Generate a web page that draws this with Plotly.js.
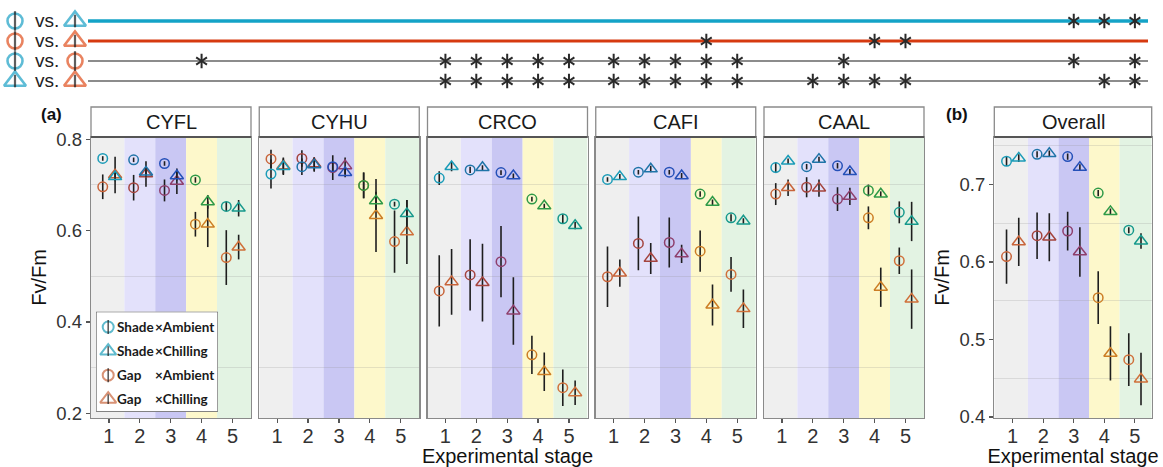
<!DOCTYPE html>
<html>
<head>
<meta charset="utf-8">
<script src="https://cdn.plot.ly/plotly-3.0.1.min.js"></script>
<style>html,body{margin:0;padding:0;background:#fff;}#chart{width:1163px;height:467px;}</style>
</head>
<body>
<div id="chart"></div>
<script>
// ---------------- DATA ----------------
const panels = ['CYFL', 'CYHU', 'CRCO', 'CAFI', 'CAAL', 'Overall'];
const stages = [1, 2, 3, 4, 5];
const stageLabels = ['1', '2', '3', '4', '5'];

const shadeAmbMean = [
  [0.758, 0.755, 0.747, 0.711, 0.653],
  [0.724, 0.740, 0.740, 0.699, 0.658],
  [0.715, 0.733, 0.727, 0.669, 0.626],
  [0.712, 0.728, 0.728, 0.680, 0.628],
  [0.738, 0.740, 0.742, 0.688, 0.640],
  [0.730, 0.739, 0.736, 0.689, 0.641]
];
const shadeAmbErr = [
  [0.005, 0.005, 0.005, 0.006, 0.010],
  [0.032, 0.018, 0.010, 0.028, 0.005],
  [0.015, 0.007, 0.005, 0.005, 0.010],
  [0.005, 0.005, 0.005, 0.006, 0.008],
  [0.012, 0.006, 0.006, 0.013, 0.024],
  [0.006, 0.004, 0.004, 0.004, 0.004]
];
const shadeChillMean = [
  [0.718, 0.728, 0.720, 0.663, 0.649],
  [0.740, 0.744, 0.727, 0.665, 0.637],
  [0.740, 0.738, 0.720, 0.654, 0.611],
  [0.718, 0.735, 0.720, 0.662, 0.621],
  [0.752, 0.756, 0.729, 0.680, 0.620],
  [0.734, 0.740, 0.722, 0.665, 0.627]
];
const shadeChillErr = [
  [0.010, 0.010, 0.010, 0.015, 0.018],
  [0.018, 0.015, 0.010, 0.020, 0.030],
  [0.010, 0.005, 0.005, 0.005, 0.008],
  [0.006, 0.007, 0.006, 0.006, 0.006],
  [0.006, 0.006, 0.006, 0.006, 0.043],
  [0.005, 0.004, 0.004, 0.004, 0.010]
];
const gapAmbMean = [
  [0.696, 0.694, 0.688, 0.614, 0.541],
  [0.757, 0.758, 0.738, 0.699, 0.576],
  [0.468, 0.503, 0.532, 0.328, 0.256],
  [0.499, 0.572, 0.574, 0.555, 0.504],
  [0.680, 0.695, 0.669, 0.628, 0.534],
  [0.607, 0.634, 0.640, 0.554, 0.474]
];
const gapAmbErr = [
  [0.027, 0.028, 0.024, 0.027, 0.060],
  [0.020, 0.018, 0.027, 0.028, 0.068],
  [0.078, 0.078, 0.078, 0.042, 0.040],
  [0.066, 0.059, 0.055, 0.045, 0.038],
  [0.024, 0.022, 0.026, 0.025, 0.029],
  [0.035, 0.030, 0.025, 0.034, 0.034]
];
const gapChillMean = [
  [0.722, 0.724, 0.708, 0.614, 0.564],
  [0.742, 0.746, 0.742, 0.633, 0.597],
  [0.488, 0.486, 0.424, 0.291, 0.245],
  [0.507, 0.539, 0.549, 0.437, 0.429],
  [0.694, 0.693, 0.675, 0.476, 0.450],
  [0.626, 0.632, 0.613, 0.482, 0.449]
];
const gapChillErr = [
  [0.040, 0.028, 0.028, 0.050, 0.027],
  [0.018, 0.015, 0.018, 0.080, 0.070],
  [0.072, 0.085, 0.074, 0.042, 0.027],
  [0.030, 0.034, 0.020, 0.045, 0.042],
  [0.018, 0.019, 0.019, 0.043, 0.065],
  [0.031, 0.031, 0.032, 0.035, 0.034]
];

// significant stages (asterisks) per panel, for each comparison row
const sigShadeAmbVsShadeChill = [[], [], [], [], [], [3, 4, 5]];
const sigGapAmbVsGapChill     = [[], [], [], [4], [4, 5], []];
const sigShadeAmbVsGapAmb     = [[4], [], [1, 2, 3, 4, 5], [1, 2, 3, 4, 5], [3], [3, 5]];
const sigShadeChillVsGapChill = [[], [], [1, 2, 3, 4, 5], [1, 2, 3, 4, 5], [2, 3, 4, 5], [4, 5]];

const legendLight = ['Shade', 'Shade', 'Gap', 'Gap'];
const legendTemp = ['×Ambient', '×Chilling', '×Ambient', '×Chilling'];
const yTitle = 'Fv/Fm';
const xTitle = 'Experimental stage';

// ---------------- STYLE ----------------
const W = 1163, H = 467;
const px = v => v / W;
const py = v => 1 - v / H;
const FONT = 'Liberation Sans, Arial, sans-serif';
const shadeColors = ['#1b9cb8', '#1f74a8', '#2450b8', '#2f9a48', '#16998c'];
const gapColors = ['#c8643a', '#a4443e', '#8e3f6c', '#cc7d24', '#d0703a'];
const bandColors = ['#efefef', '#e3e1fb', '#c9c7f3', '#fdf8cb', '#e3f3e3'];
const cyanC = '#1aa0c4', orangeC = '#df4f1c';
const panelDomains = [[91, 251], [259.25, 419.25], [427.5, 587.5], [595.75, 755.75], [764, 924], [994.3, 1151.7]];
const xRanges = [[0.42, 5.6], [0.42, 5.6], [0.42, 5.6], [0.42, 5.6], [0.42, 5.6], [0.4, 5.55]];
const yRangeA = [0.1897, 0.805], yRangeB = [0.3987, 0.7613];
const plotTop = 137, plotBot = 418, stripTop = 107;
const dodge = 0.2;

const traces = [];
const shapes = [];
const annotations = [];
const layout = {
  width: W, height: H,
  margin: {l: 0, r: 0, t: 0, b: 0},
  paper_bgcolor: '#ffffff', plot_bgcolor: '#ffffff',
  showlegend: false,
  font: {family: FONT, color: '#222'}
};

panels.forEach((name, i) => {
  const n = i + 1;
  const xa = n === 1 ? 'x' : 'x' + n;
  const ya = n === 1 ? 'y' : 'y' + n;
  const isB = i === 5;
  const yr = isB ? yRangeB : yRangeA;
  layout['xaxis' + (n === 1 ? '' : n)] = {
    domain: [px(panelDomains[i][0]), px(panelDomains[i][1])],
    range: xRanges[i], anchor: ya,
    tickmode: 'array', tickvals: stages, ticktext: stageLabels,
    ticks: 'outside', ticklen: 4, tickwidth: 1.2, tickcolor: '#555',
    ticklabelstandoff: -4,
    tickfont: {size: 20, color: '#333', family: FONT},
    showline: true, mirror: true, linecolor: '#8a8a8a', linewidth: 1.3,
    showgrid: false, zeroline: false, fixedrange: true,
    title: (i === 2 || i === 5) ? {text: xTitle, font: {size: 20, color: '#111', family: FONT}, standoff: 5} : {text: ''}
  };
  const showLab = (i === 0 || i === 5);
  layout['yaxis' + (n === 1 ? '' : n)] = {
    domain: [py(plotBot), py(plotTop)],
    range: yr, anchor: xa,
    tickmode: 'array',
    tickvals: isB ? [0.4, 0.5, 0.6, 0.7] : [0.2, 0.4, 0.6, 0.8],
    ticktext: isB ? ['0.4', '0.5', '0.6', '0.7'] : ['0.2', '0.4', '0.6', '0.8'],
    ticks: showLab ? 'outside' : '', ticklen: 4, tickwidth: 1.2, tickcolor: '#555',
    showticklabels: showLab,
    tickfont: {size: 18.5, color: '#333', family: FONT},
    showline: true, mirror: true, linecolor: '#8a8a8a', linewidth: 1.3,
    showgrid: false, zeroline: false, fixedrange: true,
    minor: {showgrid: true, tickmode: 'array', tickvals: isB ? [0.45, 0.55, 0.65, 0.75] : [0.3, 0.5, 0.7], gridcolor: 'rgba(140,140,140,0.22)', gridwidth: 1, ticks: ''},
    title: showLab ? {text: yTitle, font: {size: 20, color: '#111', family: FONT}, standoff: 4} : {text: ''}
  };

  // stage background bands
  stages.forEach((s, k) => {
    shapes.push({
      type: 'rect', layer: 'below', xref: xa, yref: ya + ' domain',
      x0: k === 0 ? xRanges[i][0] : s - 0.5,
      x1: k === stages.length - 1 ? xRanges[i][1] : s + 0.5,
      y0: 0, y1: 1, fillcolor: bandColors[k], line: {width: 0}
    });
  });
  // strip
  shapes.push({type: 'rect', xref: xa + ' domain', yref: 'paper', x0: 0, x1: 1,
    y0: py(plotTop), y1: py(stripTop), fillcolor: '#ffffff', line: {color: '#8a8a8a', width: 1.3}});
  shapes.push({type: 'line', xref: xa + ' domain', yref: 'paper', x0: 0, x1: 1,
    y0: py(plotTop), y1: py(plotTop), line: {color: '#555', width: 2}});
  annotations.push({xref: xa + ' domain', yref: 'paper', x: 0.5, y: py((plotTop + stripTop) / 2),
    text: name, showarrow: false, xanchor: 'center', yanchor: 'middle',
    font: {size: 20, color: '#1a1a1a', family: FONT}});

  const groups = [
    {mean: gapAmbMean[i], err: gapAmbErr[i], dx: -dodge, sym: 'circle-open', size: 9.5, col: gapColors},
    {mean: gapChillMean[i], err: gapChillErr[i], dx: dodge, sym: 'triangle-up-open', size: 11.5, col: gapColors},
    {mean: shadeAmbMean[i], err: shadeAmbErr[i], dx: -dodge, sym: 'circle-open', size: 9.5, col: shadeColors},
    {mean: shadeChillMean[i], err: shadeChillErr[i], dx: dodge, sym: 'triangle-up-open', size: 11.5, col: shadeColors}
  ];
  groups.forEach(g => {
    traces.push({
      type: 'scatter', mode: 'markers', xaxis: xa, yaxis: ya,
      x: stages.map(s => s + g.dx), y: g.mean,
      error_y: {type: 'data', array: g.err, visible: true, color: '#1e1e1e', thickness: 1.6, width: 0},
      marker: {symbol: g.sym, size: g.size, color: g.col, line: {width: 1.5}},
      hoverinfo: 'skip', cliponaxis: false
    });
  });
});

// ---------- top significance rows ----------
layout.yaxis7 = {domain: [py(91), py(11)], range: [4.5, 0.5], anchor: 'x', visible: false, fixedrange: true};
layout.xaxis7 = {domain: [0, px(88)], range: [0, 88], anchor: 'y7', visible: false, fixedrange: true};
const sigRows = [sigShadeAmbVsShadeChill, sigGapAmbVsGapChill, sigShadeAmbVsGapAmb, sigShadeChillVsGapChill];
const rowLine = [{color: '#14a3c7', width: 3.5}, {color: '#d63a10', width: 3}, {color: '#8c8c8c', width: 2}, {color: '#8c8c8c', width: 2}];
sigRows.forEach((row, r) => {
  shapes.push({type: 'line', xref: 'paper', yref: 'y7', x0: px(88), x1: px(1148), y0: r + 1, y1: r + 1, line: rowLine[r], layer: 'below'});
  row.forEach((hits, i) => {
    if (!hits.length) return;
    const n = i + 1;
    ['y-up-open', 'y-down-open'].forEach(sym => {
      traces.push({
        type: 'scatter', mode: 'markers', xaxis: n === 1 ? 'x' : 'x' + n, yaxis: 'y7',
        x: hits, y: hits.map(() => r + 1),
        marker: {symbol: sym, size: 9, color: '#2a2a2a', line: {width: 2, color: '#2a2a2a'}},
        hoverinfo: 'skip', cliponaxis: false
      });
    });
  });
});
// row label symbols:  Φ vs. Δ  etc.
const rowLeftSym = ['circle-open', 'circle-open', 'circle-open', 'triangle-up-open'];
const rowLeftCol = [cyanC, orangeC, cyanC, cyanC];
const rowRightSym = ['triangle-up-open', 'triangle-up-open', 'circle-open', 'triangle-up-open'];
const rowRightCol = [cyanC, orangeC, orangeC, orangeC];
const rowsIdx = [1, 2, 3, 4];
const symSize = s => s === 'circle-open' ? 15 : 19;
const barSize = s => s === 'circle-open' ? 14 : 9;
traces.push({type: 'scatter', mode: 'markers', xaxis: 'x7', yaxis: 'y7', x: rowsIdx.map(() => 15), y: rowsIdx,
  marker: {symbol: rowLeftSym, size: rowLeftSym.map(symSize), color: rowLeftCol, line: {width: 2.6}}, hoverinfo: 'skip', cliponaxis: false});
traces.push({type: 'scatter', mode: 'markers', xaxis: 'x7', yaxis: 'y7', x: rowsIdx.map(() => 75), y: rowsIdx,
  marker: {symbol: rowRightSym, size: rowRightSym.map(symSize), color: rowRightCol, line: {width: 2.6}}, hoverinfo: 'skip', cliponaxis: false});
traces.push({type: 'scatter', mode: 'markers', xaxis: 'x7', yaxis: 'y7', x: rowsIdx.map(() => 15).concat(rowsIdx.map(() => 75)), y: rowsIdx.concat(rowsIdx),
  marker: {symbol: 'line-ns-open', size: rowLeftSym.map(barSize).concat(rowRightSym.map(barSize)), color: '#1a1a1a', line: {width: 2.2}}, hoverinfo: 'skip', cliponaxis: false});
rowsIdx.forEach(r => {
  annotations.push({xref: 'x7', yref: 'y7', x: 47, y: r, text: 'vs.', showarrow: false, xanchor: 'center', yanchor: 'middle',
    font: {size: 19, color: '#222', family: FONT}});
});

// ---------- manual legend ----------
const legTop = 311.7, legBot = 411.7;
layout.xaxis8 = {domain: [px(96), px(218)], range: [0, 1], anchor: 'y8', visible: false, fixedrange: true};
layout.yaxis8 = {domain: [py(legBot), py(legTop)], range: [4.52, 0.3625], anchor: 'x8', visible: false, fixedrange: true};
shapes.push({type: 'rect', xref: 'x8', yref: 'y8', x0: 0, x1: 1, y0: 4.52, y1: 0.3625, layer: 'below',
  fillcolor: '#ffffff', line: {color: '#5a5a5a', width: 1.2}});
const legSym = ['circle-open', 'triangle-up-open', 'circle-open', 'triangle-up-open'];
const legCol = [shadeColors[0], shadeColors[0], gapColors[0], gapColors[0]];
traces.push({type: 'scatter', mode: 'markers', xaxis: 'x8', yaxis: 'y8', x: rowsIdx.map(() => 0.1), y: rowsIdx,
  marker: {symbol: legSym, size: legSym.map(s => s === 'circle-open' ? 11 : 14), color: legCol, line: {width: 2}}, hoverinfo: 'skip', cliponaxis: false});
traces.push({type: 'scatter', mode: 'markers', xaxis: 'x8', yaxis: 'y8', x: rowsIdx.map(() => 0.1), y: rowsIdx,
  marker: {symbol: 'line-ns-open', size: legSym.map(s => s === 'circle-open' ? 10 : 7), color: '#1a1a1a', line: {width: 1.6}}, hoverinfo: 'skip', cliponaxis: false});
rowsIdx.forEach((r, k) => {
  annotations.push({xref: 'x8', yref: 'y8', x: 0.155, y: r, text: '<b>' + legendLight[k] + '</b>', showarrow: false,
    xanchor: 'left', yanchor: 'middle', font: {size: 13.5, color: '#1a1a1a', family: 'Lato, Liberation Sans, sans-serif'}});
  annotations.push({xref: 'x8', yref: 'y8', x: 0.47, y: r, text: '<b>' + legendTemp[k] + '</b>', showarrow: false,
    xanchor: 'left', yanchor: 'middle', font: {size: 13.5, color: '#1a1a1a', family: 'Lato, Liberation Sans, sans-serif'}});
});

// panel tags
annotations.push({xref: 'paper', yref: 'paper', x: px(39), y: py(114), text: '<b>(a)</b>', showarrow: false,
  xanchor: 'left', yanchor: 'middle', font: {size: 17, color: '#111', family: FONT}});
annotations.push({xref: 'paper', yref: 'paper', x: px(944), y: py(114), text: '<b>(b)</b>', showarrow: false,
  xanchor: 'left', yanchor: 'middle', font: {size: 17, color: '#111', family: FONT}});

layout.shapes = shapes;
layout.annotations = annotations;

Plotly.newPlot('chart', traces, layout, {displayModeBar: false, staticPlot: true});
</script>
</body>
</html>
